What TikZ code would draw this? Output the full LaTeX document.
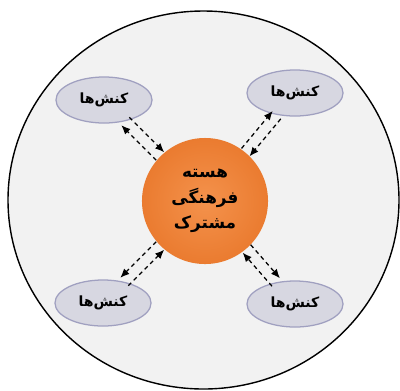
\documentclass[tikz,border=0pt]{standalone}
\usepackage{fontspec}
\newfontfamily\arabicfont[Script=Arabic]{DejaVu Sans}
\TeXXeTstate=1
\usetikzlibrary{shapes.geometric, arrows.meta}

\definecolor{ringfill}{RGB}{242,242,242}
\definecolor{actfill}{RGB}{215,215,225}
\definecolor{actline}{RGB}{160,160,192}
\definecolor{coreinner}{RGB}{244,146,76}
\definecolor{coreouter}{RGB}{226,104,24}
\pgfdeclareradialshading{coreglow}{\pgfpointorigin}{color(0bp)=(coreinner); color(46bp)=(coreouter); color(50bp)=(coreouter)}

\begin{document}
\begin{tikzpicture}[> = {Latex[length = 6.5pt, width = 5.5pt]}, x = 0.025cm, y = -0.025cm,
	act/.style = {ellipse, draw = actline, fill = actfill, line width = 0.9pt, minimum width = 2.4cm, minimum height = 1.15cm, inner sep = 0pt, font = \arabicfont\bfseries},
	link/.style = {line width = 0.9pt, dash pattern = on 3pt off 2.5pt}]

	\useasboundingbox (0, 0) rectangle (400, 390);

	% Outer ring

	\draw [line width = 1pt, fill = ringfill] (203.5, 200) ellipse [x radius = 195.5, y radius = 189];

	% Shared cultural core

	\node (core) [circle, shading = coreglow, minimum size = 3.15cm, align = center, font = \arabicfont\bfseries\large] at (205, 201)
		{\beginR هسته\endR \\[4pt] \beginR فرهنگی\endR \\[4pt] \beginR مشترک\endR};

	% Actions

	\node (tl) [act] at (104, 100) {\beginR کنش‌ها\endR};
	\node (tr) [act] at (295, 93) {\beginR کنش‌ها\endR};
	\node (bl) [act] at (103, 303) {\beginR کنش‌ها\endR};
	\node (br) [act] at (295, 304) {\beginR کنش‌ها\endR};

	% Dashed links, one each way

	\foreach \act/\side in {tl/225, tr/135, bl/135, br/45} {
		\draw [link, ->, transform canvas = {shift = {(\side:4pt)}}] (core) -- (\act);
		\draw [link, ->, transform canvas = {shift = {(\side + 180:4pt)}}] (\act) -- (core);
	}

\end{tikzpicture}
\end{document}
